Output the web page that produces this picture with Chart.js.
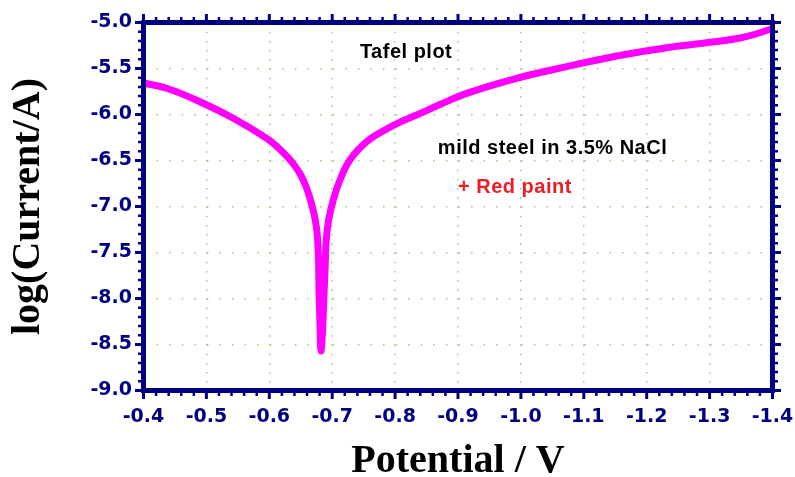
<!DOCTYPE html>
<html>
<head>
<meta charset="utf-8">
<script src="https://cdn.jsdelivr.net/npm/chart.js@4.4.1/dist/chart.umd.min.js"></script>
<style>
  html, body { margin: 0; padding: 0; background: #ffffff; }
  #wrap { width: 795px; height: 477px; }
</style>
</head>
<body>
<div id="wrap"><canvas id="c" width="795" height="477"></canvas></div>
<script>
// ---- data ----
const potential = [
  -0.4000, -0.4369, -0.4898, -0.5428, -0.5959, -0.6122, -0.6277, -0.6401, -0.6504, -0.6583,
  -0.6647, -0.6695, -0.6731, -0.6758, -0.6774, -0.6784, -0.6790, -0.6804, -0.6812, -0.6822,
  -0.6838, -0.6854, -0.6873, -0.6889, -0.6905, -0.6943, -0.7017, -0.7124, -0.7281, -0.7548,
  -0.7808, -0.8078, -0.8343, -0.8714, -0.9138, -0.9933, -1.0728, -1.1523, -1.2318, -1.3113,
  -1.3483, -1.3738, -1.4000
];
const logCurrent = [
  -5.658, -5.715, -5.861, -6.041, -6.259, -6.348, -6.453, -6.554, -6.663, -6.783,
  -6.913, -7.033, -7.147, -7.277, -7.429, -7.636, -7.908, -8.234, -8.451, -8.571,
  -8.451, -8.234, -7.908, -7.636, -7.364, -7.147, -6.929, -6.712, -6.495, -6.296,
  -6.179, -6.082, -6.005, -5.891, -5.770, -5.607, -5.480, -5.364, -5.274, -5.207,
  -5.168, -5.125, -5.065
];
const xTicks = [-0.4, -0.5, -0.6, -0.7, -0.8, -0.9, -1.0, -1.1, -1.2, -1.3, -1.4];
const yTicks = [-5.0, -5.5, -6.0, -6.5, -7.0, -7.5, -8.0, -8.5, -9.0];
const xTitle = 'Potential / V';
const yTitle = 'log(Current/A)';
const notes = [
  { text: 'Tafel plot', x: -0.744, y: -5.383, color: '#000000' },
  { text: 'mild steel in 3.5% NaCl', x: -0.868, y: -6.429, color: '#000000' },
  { text: '+ Red paint', x: -0.900, y: -6.853, color: '#ee1c25' }
];

// ---- styles ----
const AXIS = '#000080';
const GRID = '#a3c784';
const MINOR_PER_MAJOR = 5;

const points = potential.map((v, i) => ({ x: v, y: logCurrent[i] }));

const framePlugin = {
  id: 'frame',
  afterDatasetsDraw(chart) {
    const { ctx, chartArea: a, scales } = chart;
    const xs = scales.x, ys = scales.y;
    ctx.save();
    ctx.strokeStyle = AXIS;
    ctx.lineCap = 'butt';
    for (let i = 0; i < xTicks.length; i++) {
      const v0 = xTicks[i];
      const last = i === xTicks.length - 1;
      const subs = last ? 1 : MINOR_PER_MAJOR;
      for (let k = 0; k < subs; k++) {
        const v = last ? v0 : v0 + (xTicks[i + 1] - v0) * k / MINOR_PER_MAJOR;
        const px = xs.getPixelForValue(v);
        const major = k === 0;
        const len = major ? 8.5 : 5.5;
        ctx.lineWidth = major ? 3 : 2.5;
        ctx.beginPath();
        ctx.moveTo(px, a.bottom); ctx.lineTo(px, a.bottom + len);
        ctx.moveTo(px, a.top); ctx.lineTo(px, a.top - len);
        ctx.stroke();
      }
    }
    for (let i = 0; i < yTicks.length; i++) {
      const v0 = yTicks[i];
      const last = i === yTicks.length - 1;
      const subs = last ? 1 : MINOR_PER_MAJOR;
      for (let k = 0; k < subs; k++) {
        const v = last ? v0 : v0 + (yTicks[i + 1] - v0) * k / MINOR_PER_MAJOR;
        const py = ys.getPixelForValue(v);
        const major = k === 0;
        const len = major ? 8.5 : 5.5;
        ctx.lineWidth = major ? 3 : 2.5;
        ctx.beginPath();
        ctx.moveTo(a.left, py); ctx.lineTo(a.left - len, py);
        ctx.moveTo(a.right, py); ctx.lineTo(a.right + len, py);
        ctx.stroke();
      }
    }
    ctx.lineWidth = 5;
    ctx.strokeRect(a.left, a.top, a.right - a.left, a.bottom - a.top);
    ctx.restore();

    ctx.save();
    ctx.font = 'bold 20px "Liberation Sans", Arial, sans-serif';
    ctx.textAlign = 'left';
    ctx.textBaseline = 'alphabetic';
    try { ctx.letterSpacing = '0.5px'; } catch (e) {}
    notes.forEach(n => {
      ctx.fillStyle = n.color;
      ctx.fillText(n.text, xs.getPixelForValue(n.x), ys.getPixelForValue(n.y));
    });
    ctx.restore();
  }
};

const tickFont = { family: '"DejaVu Sans", sans-serif', weight: 'bold', size: 19 };
const titleFont = { family: '"Liberation Serif", "Times New Roman", serif', weight: 'bold', size: 40, lineHeight: 0.75 };

new Chart(document.getElementById('c'), {
  type: 'scatter',
  data: {
    datasets: [{
      data: points,
      showLine: true,
      borderColor: '#ff00ff',
      backgroundColor: '#ff00ff',
      borderWidth: 7,
      borderCapStyle: 'round',
      borderJoinStyle: 'round',
      pointRadius: 0,
      tension: 0.4,
      fill: false
    }]
  },
  options: {
    responsive: false,
    animation: false,
    devicePixelRatio: 1,
    layout: { padding: { top: 22.5, right: 22.5, left: 0, bottom: 0 } },
    plugins: { legend: { display: false }, tooltip: { enabled: false } },
    scales: {
      x: {
        type: 'linear',
        min: -1.4, max: -0.4,
        reverse: true,
        afterBuildTicks: s => { s.ticks = xTicks.map(v => ({ value: v })); },
        afterFit: s => { s.height = 86.5; s.paddingLeft = 0; s.paddingRight = 0; },
        ticks: {
          font: tickFont, color: AXIS, padding: 15, maxRotation: 0, autoSkip: false,
          callback: v => Number(v).toFixed(1)
        },
        grid: { color: GRID, lineWidth: 1.5, drawTicks: false, tickLength: 0 },
        border: { display: false, dash: [1.5, 7.7] },
        title: { display: true, text: xTitle, color: '#000000', font: titleFont, padding: { top: 0, bottom: 0 } }
      },
      y: {
        type: 'linear',
        min: -9.0, max: -5.0,
        afterBuildTicks: s => { s.ticks = yTicks.map(v => ({ value: v })); },
        afterFit: s => { s.width = 143.5; s.paddingTop = 0; s.paddingBottom = 0; },
        ticks: {
          font: tickFont, color: AXIS, padding: 11.5, autoSkip: false,
          callback: v => Number(v).toFixed(1)
        },
        grid: { color: GRID, lineWidth: 1.5, drawTicks: false, tickLength: 0 },
        border: { display: false, dash: [1.5, 11.08] },
        title: { display: true, text: yTitle, color: '#000000', font: titleFont, padding: { top: 14, bottom: 0 } }
      }
    }
  },
  plugins: [framePlugin]
});
</script>
</body>
</html>
